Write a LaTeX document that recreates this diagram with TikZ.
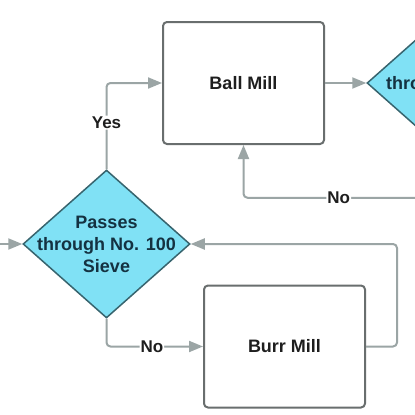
\documentclass[tikz,border=0pt]{standalone}
\usepackage{fontspec}
\setmainfont{Liberation Sans}
\usetikzlibrary{positioning, arrows.meta, shapes.geometric}
\definecolor{millline}{RGB}{105,110,110}
\definecolor{sievefill}{RGB}{128,225,245}
\definecolor{sieveline}{RGB}{55,100,110}
\definecolor{sievetext}{RGB}{20,50,65}
\definecolor{arrgray}{RGB}{155,165,165}
\definecolor{txtdark}{RGB}{30,30,30}
\tikzset{
  MB/.style={draw=millline,fill=white,line width=2pt,rectangle,rounded corners=4pt,minimum width=161pt,minimum height=122pt,font=\fontsize{18}{22}\selectfont\bfseries,text=txtdark,inner sep=0pt},
  SV/.style={draw=sieveline,fill=sievefill,line width=1.5pt,diamond,minimum width=167pt,minimum height=148pt,inner sep=0pt},
  ST/.style={font=\fontsize{18}{22}\selectfont\bfseries,text=sievetext,align=center,inner sep=0pt},
  FL/.style={-{Triangle[length=14pt,width=11pt]},line width=2pt,arrgray,rounded corners=4pt},
  lb/.style={font=\fontsize{17}{20}\selectfont\bfseries,text=txtdark,fill=white,inner sep=1pt},
}
\begin{document}
\begin{tikzpicture}[x=1pt,y=-1pt]
\useasboundingbox[fill=white](0,0) rectangle (415,415);

% Mills
\node[MB](ball) at (243.5,83){Ball Mill};
\node[MB](burr) at (284.5,346.5){Burr Mill};

% Sieve checks
\node[SV](sieve1) at (106.5,244){};
\node[ST](sieve1t) at (sieve1){Passes\\through No. 100\\Sieve};
\node[SV](sieve2) at (450.5,83){};
\node[ST](sieve2t) at (sieve2){Passes\\through No. 40\\Sieve};

% Feed into first check
\coordinate(feed) at (-10,244);
\draw[FL](feed)--(sieve1.west);

% Flows
\draw[FL](sieve1.north)|-node[lb,pos=0.27]{Yes}(ball.west);
\draw[FL](ball.east)--(sieve2.west);
\draw[FL](sieve2.south)--++(0,40)-|node[lb,pos=0.27]{No}(ball.south);
\draw[FL](sieve1.south)|-node[lb,pos=0.735]{No}(burr.west);
\draw[FL](burr.east)--++(31,0)|-(sieve1.east);

\end{tikzpicture}
\end{document}
